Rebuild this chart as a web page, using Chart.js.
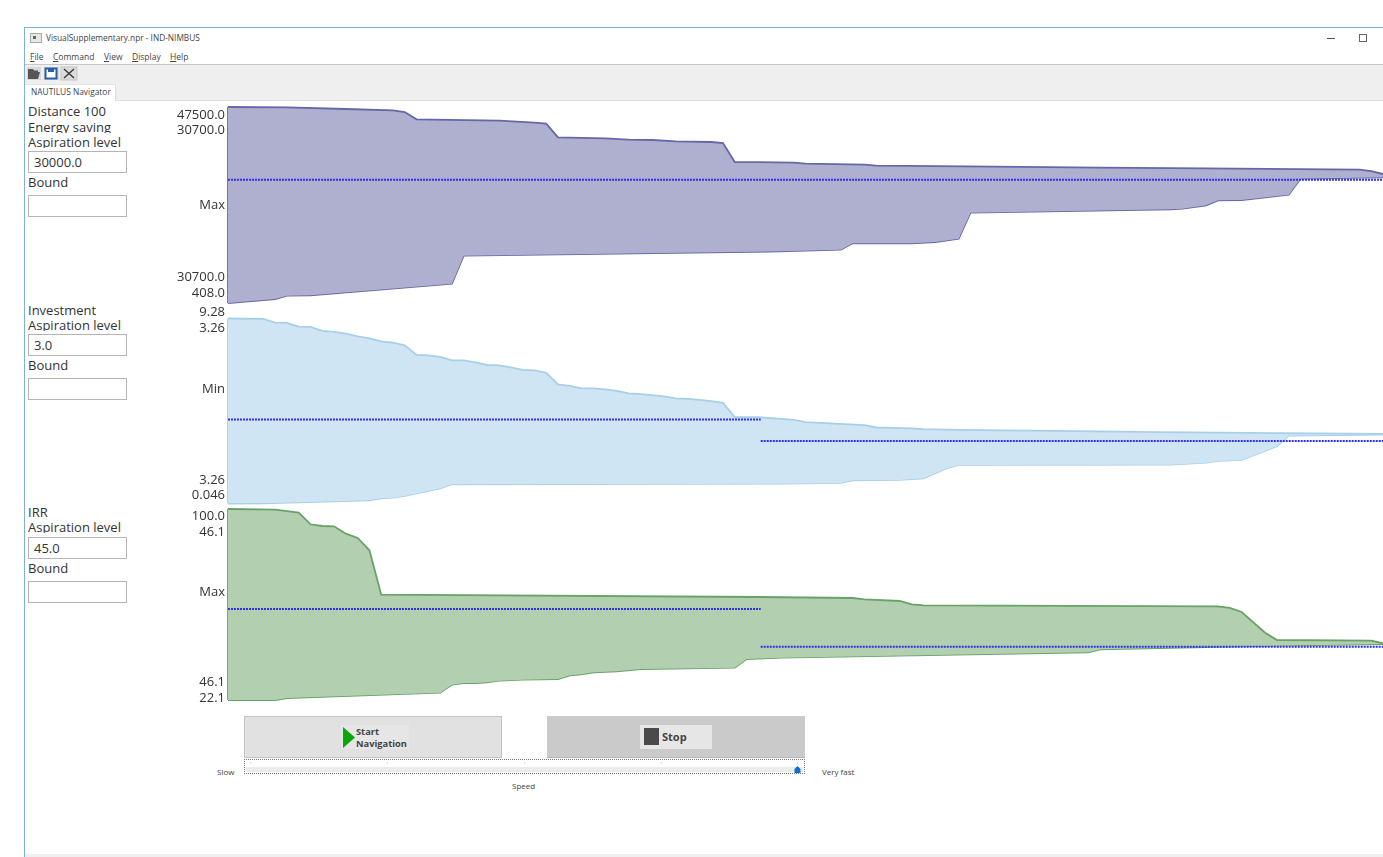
<!DOCTYPE html>
<html>
<head>
<meta charset="utf-8">
<title>NAUTILUS Navigator</title>
<script src="https://cdn.jsdelivr.net/npm/chart.js@4"></script>
<style>
html, body { margin: 0; padding: 0; width: 1383px; height: 857px; overflow: hidden; background: #fff; font-family: "Open Sans", sans-serif; color: #333; }
.abs { position: absolute; white-space: nowrap; }
.box { position: absolute; box-sizing: border-box; background: #fff; }
canvas { position: absolute; }
.lab { position: absolute; left: 28px; font-size: 13px; line-height: 16px; white-space: nowrap; overflow: hidden; }
.inp { position: absolute; left: 28px; width: 99px; height: 22px; box-sizing: border-box; border: 1px solid #b5b5b5; background: #fff; font-size: 13px; line-height: 20px; padding-left: 5px; }
.menu { position: absolute; top: 51px; font-size: 8.5px; line-height: 12px; color: #444; }
.small { font-size: 8px; color: #444; }
</style>
</head>
<body>
<!-- window frame -->
<div class="box" style="left:24px;top:27px;width:1359px;height:1px;background:#7fb0d8"></div>
<div class="box" style="left:24px;top:27px;width:1px;height:830px;background:#7fb0d8"></div>
<div class="box" style="left:25px;top:854px;width:1358px;height:3px;background:#f0f0f0"></div>
<svg class="abs" style="left:30px;top:33px" width="12" height="10"><rect x="0.5" y="0.5" width="11" height="9" fill="#e6e6e6" stroke="#aaa"/><rect x="3" y="3" width="3" height="3" fill="#3b7a57"/></svg>
<div class="abs" style="left:46px;top:32px;font-size:8.3px;line-height:12px;color:#444">VisualSupplementary.npr - IND-NIMBUS</div>
<div class="box" style="left:1327px;top:38px;width:8px;height:1px;background:#555"></div>
<div class="box" style="left:1359px;top:34px;width:8px;height:8px;background:#fff;border:1.5px solid #666"></div>
<div class="menu" style="left:30px"><u>F</u>ile</div>
<div class="menu" style="left:53px"><u>C</u>ommand</div>
<div class="menu" style="left:104px"><u>V</u>iew</div>
<div class="menu" style="left:132px"><u>D</u>isplay</div>
<div class="menu" style="left:170px"><u>H</u>elp</div>
<!-- toolbar and tab -->
<div class="box" style="left:25px;top:64px;width:1358px;height:37px;background:#efefef;border-top:1px solid #c8c8c8;border-bottom:1px solid #e0e0e0"></div>
<svg class="abs" style="left:26px;top:66px" width="52" height="15">
  <rect x="1" y="1" width="14" height="13" fill="#d8d8d8"/><rect x="18" y="1" width="15" height="13" fill="#d8d8d8"/><rect x="35" y="1" width="16" height="13" fill="#dcdcdc" stroke="#c4c4c4"/>
  <path d="M2 3h5l1 1.5h4v1.5h2l-2 7h-10z" fill="#555"/>
  <rect x="19.500" y="2.500" width="11" height="10" fill="#fff" stroke="#2a5ca8" stroke-width="2"/><rect x="22" y="2" width="6" height="4" fill="#2a5ca8"/>
  <path d="M38 3l10 9M48 3l-10 9" stroke="#333" stroke-width="1.300"/>
</svg>
<div class="box" style="left:25px;top:84px;width:91px;height:17px;background:#fff;border-right:1px solid #ddd;border-top:1px solid #e4e4e4"></div>
<div class="abs" style="left:31px;top:86px;font-size:8.4px;line-height:12px;color:#444">NAUTILUS Navigator</div>

<!-- left panels -->
<div class="lab" style="top:103px;height:16px">Distance 100</div>
<div class="lab" style="top:119px;height:14px">Energy saving</div>
<div class="lab" style="top:134px;height:14px">Aspiration level</div>
<div class="inp" style="top:151px">30000.0</div>
<div class="lab" style="top:174px">Bound</div>
<div class="inp" style="top:195px"></div>

<div class="lab" style="top:302px">Investment</div>
<div class="lab" style="top:317px;height:14px">Aspiration level</div>
<div class="inp" style="top:334px">3.0</div>
<div class="lab" style="top:357px">Bound</div>
<div class="inp" style="top:378px"></div>

<div class="lab" style="top:504px">IRR</div>
<div class="lab" style="top:519px;height:14px">Aspiration level</div>
<div class="inp" style="top:537px">45.0</div>
<div class="lab" style="top:560px">Bound</div>
<div class="inp" style="top:581px"></div>

<canvas id="chart-distance" width="1223" height="212" style="left:160px;top:100px"></canvas>
<canvas id="chart-investment" width="1223" height="206" style="left:160px;top:304px"></canvas>
<canvas id="chart-irr" width="1223" height="200" style="left:160px;top:505px"></canvas>

<!-- buttons and speed slider -->
<div class="box" style="left:244px;top:716px;width:258px;height:42px;background:#e1e1e1;border:1px solid #c4c4c4"></div>
<div class="box" style="left:341px;top:725px;width:68px;height:24px;background:#e6e6e6"></div>
<svg class="abs" style="left:343px;top:727px" width="13" height="21"><path d="M0 0L12 10.500L0 21z" fill="#0aa60a"/></svg>
<div class="abs" style="left:356px;top:726px;font-size:9.300px;line-height:12px;font-weight:700;color:#444">Start<br>Navigation</div>
<div class="box" style="left:547px;top:716px;width:258px;height:42px;background:#cacaca;border-bottom:1px solid #b5b5b5"></div>
<div class="box" style="left:640px;top:725px;width:72px;height:24px;background:#e6e6e6"></div>
<div class="box" style="left:644px;top:728px;width:15px;height:17px;background:#4a4a4a"></div>
<div class="abs" style="left:662px;top:729px;font-size:11px;line-height:15px;font-weight:700;color:#444">Stop</div>
<div class="box" style="left:244px;top:759px;width:561px;height:15px;border:1px dotted #777;background:#fff"></div>
<div class="box" style="left:246px;top:767px;width:557px;height:5px;background:#ececec"></div>
<div class="box" style="left:250px;top:762px;width:1px;height:2px;background:#ddd"></div>
<div class="box" style="left:387px;top:762px;width:1px;height:2px;background:#ddd"></div>
<div class="box" style="left:524px;top:762px;width:1px;height:2px;background:#ddd"></div>
<div class="box" style="left:661px;top:762px;width:1px;height:2px;background:#ddd"></div>
<div class="box" style="left:797px;top:762px;width:1px;height:2px;background:#ddd"></div>
<svg class="abs" style="left:794px;top:766px" width="7" height="8"><path d="M0.500 3L3.500 0L6.500 3V7H0.500z" fill="#0a6fd6"/></svg>
<div class="abs small" style="left:217px;top:766px">Slow</div>
<div class="abs small" style="left:822px;top:766px">Very fast</div>
<div class="abs small" style="left:512px;top:780px">Speed</div>

<script>
// readings, x is the navigation step
var maxStep = 98;

var distanceUpperSteps = [0, 5, 10, 14, 15, 16, 23, 26, 27, 28, 32, 34, 36, 38, 41, 42, 43, 45, 48, 49, 54, 55, 65, 74, 83, 96, 97, 98];
var distanceUpper = [47500, 47430, 47020, 46710, 46300, 44550, 44210, 43730, 43490, 40220, 39980, 39640, 39570, 39260, 39090, 38850, 34290, 34250, 34120, 33880, 33640, 33400, 33160, 32920, 32770, 32440, 32120, 31400];
var distanceLowerSteps = [0, 4, 5, 7, 19, 20, 46, 52, 53, 58, 60, 62, 63, 80, 81, 83, 84, 86, 90, 91, 98];
var distanceLower = [408, 1370, 2160, 2260, 5050, 11770, 12780, 13210, 14750, 14750, 15060, 15860, 22100, 22920, 23070, 23880, 25080, 25160, 26430, 30270, 30610];
var distanceAspiration = [[0, 98, 30000]];
var distanceTicks = [45580, 41850, 23950, 6650, 2810];
var distanceLabels = ['47500.0', '30700.0', 'Max', '30700.0', '408.0'];

var investmentUpperSteps = [0, 3, 4, 5, 6, 7, 8, 9, 10, 11, 12, 13, 14, 15, 16, 17, 18, 19, 20, 21, 22, 23, 24, 25, 26, 27, 28, 29, 30, 31, 32, 33, 34, 35, 36, 37, 38, 39, 40, 41, 42, 43, 45, 48, 49, 54, 55, 58, 59, 62, 72, 79, 89, 98];
var investmentUpper = [9.28, 9.26, 9.07, 9.06, 8.87, 8.86, 8.66, 8.61, 8.52, 8.39, 8.29, 8.14, 8.07, 7.94, 7.46, 7.44, 7.36, 7.19, 7.19, 7.09, 6.96, 6.94, 6.84, 6.72, 6.69, 6.57, 5.99, 5.92, 5.79, 5.79, 5.74, 5.67, 5.54, 5.51, 5.46, 5.39, 5.29, 5.27, 5.22, 5.16, 5.07, 4.36, 4.35, 4.22, 4.11, 3.96, 3.84, 3.80, 3.76, 3.72, 3.66, 3.61, 3.56, 3.52];
var investmentLowerSteps = [0, 3, 6, 12, 13, 14, 15, 18, 19, 47, 52, 53, 57, 59, 61, 62, 80, 83, 84, 86, 89, 90, 98];
var investmentLower = [0.046, 0.056, 0.106, 0.206, 0.306, 0.336, 0.421, 0.806, 1.006, 1.036, 1.071, 1.206, 1.221, 1.306, 1.806, 1.971, 1.986, 2.086, 2.171, 2.221, 2.906, 3.436, 3.486];
var investmentAspiration = [[0, 45.2, 4.236], [45.2, 98, 3.171]];
var investmentTicks = [9.57, 8.77, 5.77, 1.22, 0.47];
var investmentLabels = ['9.28', '3.26', 'Min', '3.26', '0.046'];

var irrUpperSteps = [0, 4, 6, 7, 8, 9, 10, 11, 12, 13, 45, 53, 54, 57, 58, 59, 84, 85, 86, 88, 89, 97, 98];
var irrUpper = [100, 99.72, 98.5, 93.77, 93.07, 92.95, 89.93, 88.18, 83.16, 65.05, 64.11, 63.7, 63.18, 62.48, 61.14, 60.73, 60.32, 59.63, 58, 49.55, 46.57, 46.29, 45.23];
var irrLowerSteps = [0, 4, 5, 18, 19, 20, 21, 22, 23, 25, 28, 29, 30, 31, 33, 35, 43, 44, 47, 73, 74, 82, 89, 98];
var irrLower = [22.1, 22.1, 22.92, 25.08, 28.34, 29.03, 29.03, 29.32, 29.97, 30.38, 30.67, 32.18, 32.58, 33.4, 33.81, 34.74, 35.28, 38.82, 39.35, 41.56, 42.78, 43.6, 44.25, 44.94];
var irrAspiration = [[0, 45.2, 59.22], [45.2, 98, 43.84]];
var irrTicks = [97.2, 90.6, 66.2, 29.4, 22.9];
var irrLabels = ['100.0', '46.1', 'Max', '46.1', '22.1'];

function points(steps, values) {
  return steps.map(function(s, i) { return { x: s, y: values[i] }; });
}

function makeNavigator(id, top, height, plotTop, plotBottom, min, max, upperSteps, upper, lowerSteps, lower, aspiration, ticks, labels, fillColor, lineColor) {
  var datasets = [];
  aspiration.forEach(function(a) {
    datasets.push({
      data: [{ x: a[0], y: a[2] }, { x: a[1], y: a[2] }],
      borderColor: '#3030f0', borderWidth: 2, borderDash: [2, 1], fill: false, clip: false
    });
  });
  datasets.push({
    data: points(upperSteps, upper),
    borderColor: lineColor, backgroundColor: fillColor, borderWidth: 1.8, fill: '+1', clip: false
  });
  datasets.push({
    data: points(lowerSteps, lower),
    borderColor: lineColor, borderWidth: 1.8, fill: false, clip: false
  });
  // closes the band on its left side
  datasets.push({
    data: [{ x: 0, y: upper[0] }, { x: 0, y: lower[0] }],
    borderColor: lineColor, borderWidth: 1.8, fill: false, clip: false
  });

  return new Chart(document.getElementById(id).getContext('2d'), {
    type: 'line',
    data: { datasets: datasets },
    options: {
      responsive: false,
      animation: false,
      elements: { point: { radius: 0 }, line: { tension: 0 } },
      layout: { padding: { top: plotTop - top, bottom: top + height - plotBottom, left: 0, right: 0 } },
      plugins: { legend: { display: false }, tooltip: { enabled: false } },
      scales: {
        x: { type: 'linear', min: 0, max: maxStep, display: false },
        y: {
          type: 'linear', min: min, max: max,
          grid: { display: false, drawTicks: false },
          border: { display: false },
          afterBuildTicks: function(scale) {
            scale.ticks = ticks.map(function(v) { return { value: v }; });
          },
          // plot edges stay where they are whatever the label height
          afterFit: function(scale) {
            scale.width = 68;
            scale.paddingTop = 0;
            scale.paddingBottom = 0;
          },
          ticks: {
            autoSkip: false, padding: 3, color: '#333',
            font: { family: '"Open Sans", sans-serif', size: 13 },
            callback: function(value, index) { return labels[index]; }
          }
        }
      }
    }
  });
}

makeNavigator('chart-distance', 100, 212, 107, 303, 408, 47500, distanceUpperSteps, distanceUpper, distanceLowerSteps, distanceLower, distanceAspiration, distanceTicks, distanceLabels, '#afb0cf', '#6467a8');
makeNavigator('chart-investment', 304, 206, 318.5, 503.5, 0.046, 9.28, investmentUpperSteps, investmentUpper, investmentLowerSteps, investmentLower, investmentAspiration, investmentTicks, investmentLabels, '#d0e5f4', '#a8cfea');
makeNavigator('chart-irr', 505, 200, 509, 700, 22.1, 100, irrUpperSteps, irrUpper, irrLowerSteps, irrLower, irrAspiration, irrTicks, irrLabels, '#b2d0b0', '#68a268');
</script>
</body>
</html>
